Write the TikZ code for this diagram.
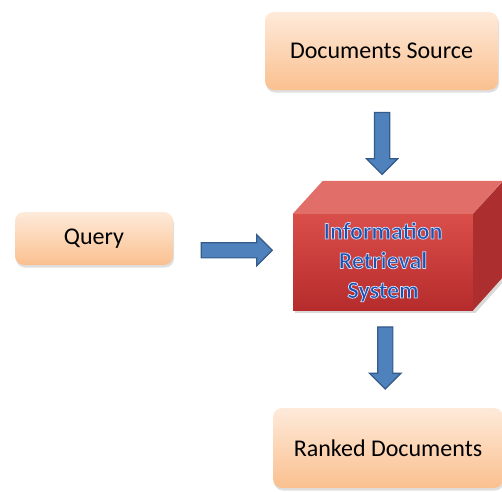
\documentclass[tikz,border=0pt]{standalone}
\usepackage{fontspec}
\setmainfont{Carlito}
\usetikzlibrary{shapes.arrows}
\usetikzlibrary{shadows}
\usetikzlibrary{calc}

\definecolor{peachtop}{RGB}{254,234,218}
\definecolor{peachbot}{RGB}{250,192,143}
\definecolor{redtop}{RGB}{218,78,74}
\definecolor{redbot}{RGB}{182,44,44}
\definecolor{redlid}{RGB}{226,110,106}
\definecolor{redside}{RGB}{172,46,46}
\definecolor{arrowfill}{RGB}{79,129,189}
\definecolor{arrowline}{RGB}{52,90,138}
\definecolor{irtext}{RGB}{30,80,175}

% light rim round the text of the red block
\newcommand{\rimtext}[1]{\special{pdf:literal direct 0.80 0.86 0.97 RG 0.75 w 2 Tr}#1\special{pdf:literal direct 0 Tr}}

\begin{document}
\begin{tikzpicture}[x=1pt,y=-1pt]
\tikzset{
    box/.style={rounded corners=9pt, inner sep=0pt,
        top color=peachtop, bottom color=peachbot,
        drop shadow={opacity=0.25, shadow xshift=1pt, shadow yshift=-2.5pt},
        font=\fontsize{24}{29}\selectfont},
    blockarrow/.style={single arrow, fill=arrowfill, draw=arrowline, line width=1.2pt,
        inner sep=0pt, inner ysep=7pt, single arrow head extend=8pt,
        single arrow head indent=0pt}
}
    % canvas
    \useasboundingbox (0,0) rectangle (502,491);

    % the boxes
    \node[box, minimum width=233, minimum height=78] (src) at (381.5,51) {Documents Source};
    \node[box, minimum width=158, minimum height=53] (query) at (94,238.5) {Query};
    \node[box, minimum width=230, minimum height=80] (rank) at (388,448) {Ranked Documents};

    % the red block
    \node[inner sep=0pt, minimum width=180, minimum height=96,
        top color=redtop, bottom color=redbot,
        drop shadow={opacity=0.3, shadow xshift=2pt, shadow yshift=-3pt},
        align=center, text=irtext, font=\fontsize{24}{29.5}\selectfont\bfseries] (ir) at (383,262)
        {\rimtext{Information}\\ \rimtext{Retrieval}\\ \rimtext{System}};
    \fill[redlid] (ir.north west) -- ++(30,-33) -- ++(180,0) -- (ir.north east) -- cycle;
    \fill[redside, drop shadow={opacity=0.3, shadow xshift=2pt, shadow yshift=-3pt}]
        (ir.north east) -- ++(30,-33) -- ++(0,96) -- (ir.south east) -- cycle;

    % arrows
    \path (src.south) -- node[blockarrow, pos=0.4, minimum height=62, rotate=-90] (a1) {} (ir.north);
    \path (query.east) -- node[blockarrow, minimum height=71] (a2) {} (ir.west);
    \path (ir.south) -- node[blockarrow, pos=0.45, minimum height=62, rotate=-90] (a3) {} (rank.north);

\end{tikzpicture}
\end{document}
